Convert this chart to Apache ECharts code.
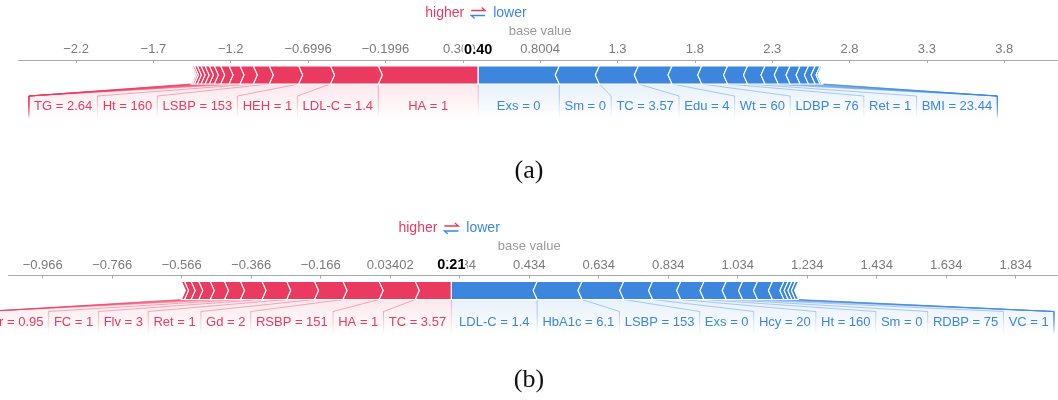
<!DOCTYPE html>
<html><head><meta charset="utf-8">
<script src="https://cdn.jsdelivr.net/npm/echarts@6/dist/echarts.min.js"></script>
<style>html,body{margin:0;padding:0;background:#fff}#main{width:1058px;height:400px}</style>
</head><body><div id="main"></div>
<script>
// ---------------- data : panel (a) ----------------
const outputA = 0.40;
const outputTextA = '0.40';
const baseA = 0.8004;
const ticksA = [-2.1996,-1.6996,-1.1996,-0.6996,-0.1996,0.3004,0.8004,1.3004,1.8004,2.3004,2.8004,3.3004,3.8004];
const tickLabelsA = ['\u22122.2','\u22121.7','\u22121.2','\u22120.6996','\u22120.1996','0.3004','0.8004','1.3','1.8','2.3','2.8','3.3','3.8'];
const higherLabelsA = ['HA = 1','LDL-C = 1.4','HEH = 1','LSBP = 153','Ht = 160','TG = 2.64'];
const higherEffectsA = [0.646,0.309,0.206,0.190,0.103,0.086,0.071,0.054,0.041,0.032,0.028,0.026,0.024,0.019,0.012,0.009];
const lowerLabelsA = ['Exs = 0','Sm = 0','TC = 3.57','Edu = 4','Wt = 60','LDBP = 76','Ret = 1','BMI = 23.44'];
const lowerEffectsA = [0.524,0.259,0.252,0.218,0.192,0.167,0.129,0.113,0.086,0.076,0.065,0.054,0.043,0.032,0.012,0.007];

// ---------------- data : panel (b) ----------------
const outputB = 0.21;
const outputTextB = '0.21';
const baseB = 0.434;
const ticksB = [-0.966,-0.766,-0.566,-0.366,-0.166,0.03402,0.234,0.434,0.634,0.834,1.034,1.234,1.434,1.634,1.834];
const tickLabelsB = ['\u22120.966','\u22120.766','\u22120.566','\u22120.366','\u22120.166','0.03402','0.234','0.434','0.634','0.834','1.034','1.234','1.434','1.634','1.834'];
const higherLabelsB = ['TC = 3.57','HA = 1','RSBP = 151','Gd = 2','Ret = 1','Flv = 3','FC = 1','Cr = 0.95'];
const higherEffectsB = [0.104,0.104,0.104,0.082,0.080,0.071,0.062,0.046,0.041,0.033,0.022,0.019,0.009];
const lowerLabelsB = ['LDL-C = 1.4','HbA1c = 6.1','LSBP = 153','Exs = 0','Hcy = 20','Ht = 160','Sm = 0','RDBP = 75','VC = 1'];
const lowerEffectsB = [0.247,0.129,0.120,0.083,0.081,0.067,0.064,0.047,0.043,0.043,0.033,0.012,0.011,0.010,0.009];

const captions = ['(a)','(b)'];

// ---------------- styling ----------------
const RED = [234,58,95], BLUE = [60,135,221];
const rgba = (c,a) => `rgba(${c[0]},${c[1]},${c[2]},${a})`;
const SANS = '"Liberation Sans", Arial, sans-serif';
const LABEL_FONT = '13px ' + SANS;
const PAD = 5.2;
const mctx = document.createElement('canvas').getContext('2d');
function tw(s){ mctx.font = LABEL_FONT; return mctx.measureText(s).width; }
function vgrad(c, y0, y1, a0){
  return new echarts.graphic.LinearGradient(0, y0, 0, y1, [{offset:0,color:rgba(c,a0)},{offset:1,color:rgba(c,0)}], true);
}

function buildRender(P){
  return function(params, api){
    const cs = params.coordSys;
    const ay = cs.y;
    const bt = ay + 6, bb = ay + 24, bm = ay + 15;
    const lt = ay + 36, lb = ay + 59, ly = ay + 46.5;
    const X = v => api.coord([v, 0])[0];
    const xj = X(P.output);
    const C = 4;
    const back = [], lines = [], bars = [], texts = [];
    function side(effects, labels, dir, col){
      let v = P.output, edge = xj;
      effects.forEach((e, i) => {
        const inner = X(v), outer = X(v + dir*e);
        v += dir*e;
        let pts;
        if (dir < 0){
          const cr = i === 0 ? 0 : C;
          pts = [[outer,bt],[inner,bt],[inner+cr,bm],[inner,bb],[outer,bb],[outer+C,bm]];
        } else {
          const cl = i === 0 ? 0 : C;
          pts = [[inner,bt],[outer,bt],[outer-C,bm],[outer,bb],[inner,bb],[inner-cl,bm]];
        }
        bars.push({type:'polygon', shape:{points:pts}, style:{fill:rgba(col,1), stroke:'#fff', lineWidth:1.1}});
        let d;
        if (i < labels.length){
          const bw = tw(labels[i]) + 2*PAD;
          d = dir < 0 ? Math.min(outer, edge - bw) : Math.max(outer, edge + bw);
          texts.push({type:'text', style:{x:(d+edge)/2, y:ly, text:labels[i], fill:rgba(col,1), font:LABEL_FONT, align:'center', verticalAlign:'middle'}});
        } else d = edge;
        back.push({type:'polygon', shape:{points:[[inner,bb],[outer,bb],[d,lt],[d,lb],[edge,lb],[edge,lt]]}, style:{fill:vgrad(col, bb, lb, 0.12)}});
        lines.push({type:'polyline', shape:{points:[[outer,bb],[d,lt]]}, style:{stroke:rgba(col,0.4), lineWidth:1, fill:null}});
        lines.push({type:'line', shape:{x1:d,y1:lt,x2:d,y2:lb}, style:{stroke:vgrad(col, lt, lb, 0.4), lineWidth:1}});
        edge = d;
      });
    }
    side(P.higherEffects, P.higherLabels, -1, RED);
    side(P.lowerEffects, P.lowerLabels, 1, BLUE);
    lines.push({type:'line', shape:{x1:xj,y1:bb,x2:xj,y2:lb}, style:{stroke:vgrad(RED, bb, lb, 0.4), lineWidth:1}});

    const head = [];
    head.push({type:'text', style:{x:xj, y:ay-10.5, text:P.outputText, fill:'#000', stroke:'#fff', lineWidth:4,
      font:'bold 14.5px ' + SANS, align:'center', verticalAlign:'middle'}});
    head.push({type:'text', style:{x:X(P.base), y:ay-29, text:'base value', fill:'#999', font:'13px ' + SANS, align:'center', verticalAlign:'middle'}});
    const hy = ay - 47;
    head.push({type:'text', style:{x:xj-14, y:hy, text:'higher', fill:rgba(RED,1), font:'14px ' + SANS, align:'right', verticalAlign:'middle'}});
    head.push({type:'text', style:{x:xj+15, y:hy, text:'lower', fill:rgba(BLUE,1), font:'14px ' + SANS, align:'left', verticalAlign:'middle'}});
    head.push({type:'polyline', shape:{points:[[xj-7,hy-2.5],[xj+7,hy-2.5],[xj+3.5,hy-5.5]]}, style:{stroke:rgba(RED,1), lineWidth:1.3, fill:null}});
    head.push({type:'polyline', shape:{points:[[xj+7,hy+2.5],[xj-7,hy+2.5],[xj-3.5,hy+5.5]]}, style:{stroke:rgba(BLUE,1), lineWidth:1.3, fill:null}});

    return {type:'group', children: back.concat(lines, bars, texts, head)};
  };
}

function tickFormatter(ticks, labels){
  return function(v){
    let best = 0, bd = Infinity;
    ticks.forEach((t,i) => { const d = Math.abs(t - v); if (d < bd){ bd = d; best = i; } });
    return labels[best];
  };
}
function xAxisFor(gi, min, max, ticks, labels){
  return {
    gridIndex: gi, type:'value', position:'top', min, max,
    axisLine:{show:true, onZero:false, lineStyle:{color:'#a8a8a8', width:1}},
    axisTick:{show:true, inside:true, length:3, customValues:ticks, lineStyle:{color:'#a8a8a8'}},
    axisLabel:{show:true, customValues:ticks, formatter:tickFormatter(ticks, labels), margin:4,
      color:'#7a7a7a', fontSize:13, fontFamily:SANS},
    splitLine:{show:false}
  };
}

const chart = echarts.init(document.getElementById('main'));
chart.setOption({
  animation:false,
  backgroundColor:'#fff',
  grid:[
    {left:18.6, right:0, top:60, height:80},
    {left:8.5, right:0, top:275.5, height:80}
  ],
  xAxis:[
    xAxisFor(0, -2.571, 4.148, ticksA, tickLabelsA),
    xAxisFor(1, -1.0644, 1.9557, ticksB, tickLabelsB)
  ],
  yAxis:[
    {gridIndex:0, type:'value', min:0, max:1, show:false},
    {gridIndex:1, type:'value', min:0, max:1, show:false}
  ],
  series:[
    {type:'custom', xAxisIndex:0, yAxisIndex:0, clip:false, data:[[outputA,0]],
      renderItem: buildRender({output:outputA, outputText:outputTextA, base:baseA,
        higherEffects:higherEffectsA, higherLabels:higherLabelsA, lowerEffects:lowerEffectsA, lowerLabels:lowerLabelsA})},
    {type:'custom', xAxisIndex:1, yAxisIndex:1, clip:false, data:[[outputB,0]],
      renderItem: buildRender({output:outputB, outputText:outputTextB, base:baseB,
        higherEffects:higherEffectsB, higherLabels:higherLabelsB, lowerEffects:lowerEffectsB, lowerLabels:lowerLabelsB})}
  ],
  graphic:[
    {type:'text', left:'center', top:158, style:{text:captions[0], font:'26px "Liberation Serif", serif', fill:'#111'}},
    {type:'text', left:'center', top:367, style:{text:captions[1], font:'26px "Liberation Serif", serif', fill:'#111'}}
  ]
});
</script>
</body></html>
